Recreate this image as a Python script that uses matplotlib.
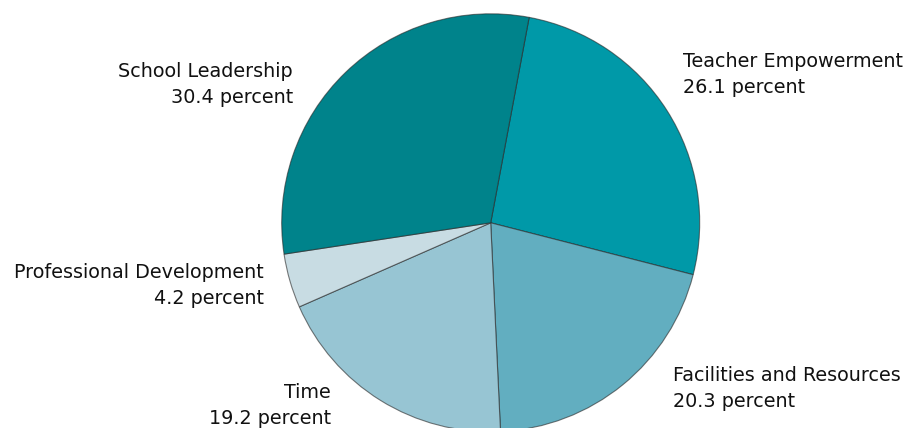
import matplotlib
matplotlib.use('Agg')
import matplotlib.pyplot as plt

# Data (clockwise from the top)
labels = ['Teacher Empowerment', 'Facilities and Resources', 'Time',
          'Professional Development', 'School Leadership']
values = [26.1, 20.3, 19.2, 4.2, 30.4]
colors = ['#0099A8', '#62AEC0', '#97C5D3', '#C8DCE3', '#00838B']

# Label placement in pixel coords (x, baseline of first line from top, alignment)
label_pos = [(683, 67, 'left'), (673, 381, 'left'), (331, 398, 'right'),
             (264, 278, 'right'), (293, 77, 'right')]

W, H = 909, 428
fig = plt.figure(figsize=(W / 100, H / 100), dpi=100)
ax = fig.add_axes([0, 0, 1, 1])

ax.pie(values, colors=colors, startangle=79.4, counterclock=False,
       center=(490.7, H - 222.8), radius=209,
       wedgeprops=dict(edgecolor=(0.15, 0.15, 0.15, 0.6), linewidth=0.8))

ax.set_xlim(0, W)
ax.set_ylim(0, H)
ax.set_aspect('equal')
ax.axis('off')

for lab, val, (x, y, ha) in zip(labels, values, label_pos):
    ax.text(x, H - y, lab, ha=ha, va='baseline', fontsize=13.8,
            family='DejaVu Sans', color='#111111')
    ax.text(x, H - y - 26, f'{val} percent', ha=ha, va='baseline', fontsize=13.8,
            family='DejaVu Sans', color='#111111')

fig.savefig('out.png', dpi=100)
plt.close(fig)
